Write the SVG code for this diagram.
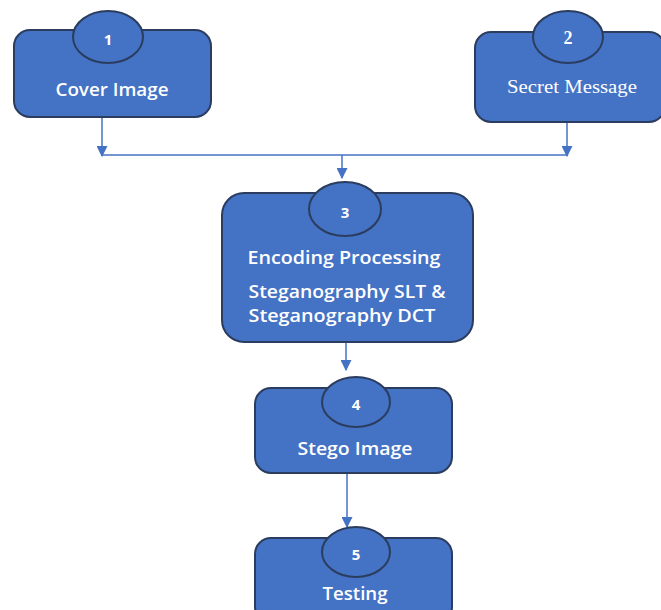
<svg xmlns="http://www.w3.org/2000/svg" width="661" height="610" viewBox="0 0 661 610">
<defs>
<style>
.box{fill:#4472C4;stroke:#2B3D5E;stroke-width:2}
.num{fill:#4472C4;stroke:#2B3D5E;stroke-width:2}
.t{fill:#fff;font-family:"Open Sans","Liberation Sans",sans-serif;font-size:18px;font-weight:600;text-anchor:middle}
.n{fill:#fff;font-family:"Open Sans","Liberation Sans",sans-serif;font-size:15px;font-weight:bold;text-anchor:middle}
.s{fill:#fff;font-family:"Liberation Serif",serif;font-size:19px;text-anchor:middle}
.ns{fill:#fff;font-family:"Liberation Serif",serif;font-size:18px;font-weight:bold;text-anchor:middle}
.ln{fill:none;stroke:#4472C4;stroke-width:1.5}
</style>
<marker id="ah" viewBox="0 0 10 10" refX="9" refY="5" markerWidth="11" markerHeight="11" markerUnits="userSpaceOnUse" orient="auto">
<path d="M0,0 L10,5 L0,10 z" fill="#4472C4"/>
</marker>
</defs>
<rect width="661" height="610" fill="#fff"/>
<g id="connectors">
<line class="ln" x1="102" y1="117" x2="102" y2="156" marker-end="url(#ah)"/>
<line class="ln" x1="567" y1="122" x2="567" y2="156" marker-end="url(#ah)"/>
<line class="ln" x1="102" y1="155" x2="567" y2="155"/>
<line class="ln" x1="342" y1="155" x2="342" y2="178" marker-end="url(#ah)"/>
<line class="ln" x1="346" y1="342" x2="346" y2="370" marker-end="url(#ah)"/>
<line class="ln" x1="347" y1="473" x2="347" y2="527" marker-end="url(#ah)"/>
</g>
<g id="node1">
<rect class="box" x="14" y="30" width="197" height="87" rx="16"/>
<ellipse class="num" cx="108" cy="37" rx="35" ry="26"/>
<text class="n" x="108" y="45">1</text>
<text class="t" x="112" y="96" textLength="113" lengthAdjust="spacingAndGlyphs">Cover Image</text>
</g>
<g id="node2">
<rect class="box" x="475" y="32" width="190" height="90" rx="16"/>
<ellipse class="num" cx="568" cy="37" rx="35" ry="26"/>
<text class="ns" x="568" y="44">2</text>
<text class="s" x="572" y="93" textLength="130" lengthAdjust="spacingAndGlyphs">Secret Message</text>
</g>
<g id="node3">
<rect class="box" x="222" y="193" width="251" height="149" rx="22"/>
<ellipse class="num" cx="345" cy="209" rx="36" ry="27"/>
<text class="n" x="345" y="218">3</text>
<text class="t" x="344" y="264" textLength="193" lengthAdjust="spacingAndGlyphs">Encoding Processing</text>
<text class="t" x="347" y="298" textLength="197" lengthAdjust="spacingAndGlyphs">Steganography SLT &amp;</text>
<text class="t" x="342" y="322" textLength="187" lengthAdjust="spacingAndGlyphs">Steganography DCT</text>
</g>
<g id="node4">
<rect class="box" x="255" y="388" width="197" height="85" rx="16"/>
<ellipse class="num" cx="356" cy="402" rx="34" ry="25"/>
<text class="n" x="356" y="410">4</text>
<text class="t" x="355" y="455" textLength="115" lengthAdjust="spacingAndGlyphs">Stego Image</text>
</g>
<g id="node5">
<rect class="box" x="255" y="538" width="197" height="85" rx="16"/>
<ellipse class="num" cx="356" cy="552" rx="34" ry="25"/>
<text class="n" x="356" y="560">5</text>
<text class="t" x="355" y="600" textLength="65" lengthAdjust="spacingAndGlyphs">Testing</text>
</g>
</svg>
